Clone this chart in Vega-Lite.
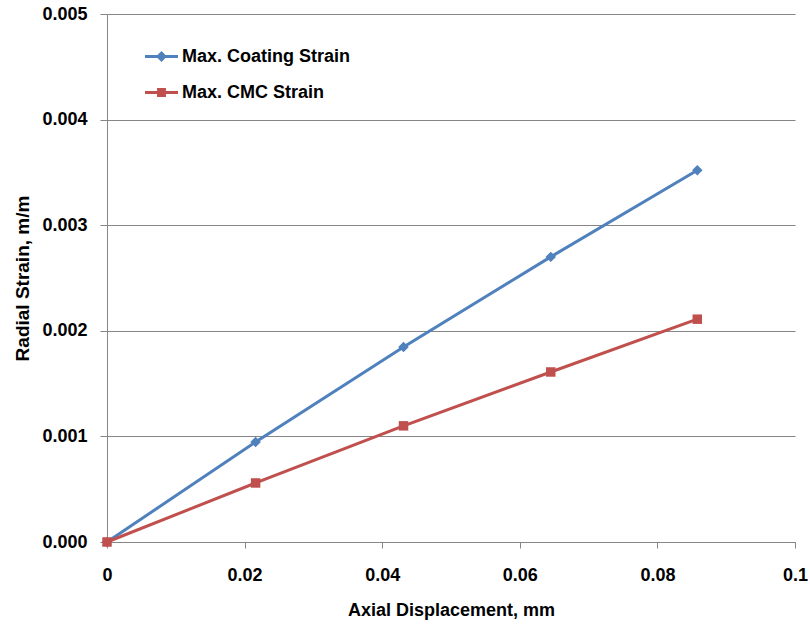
{
  "$schema": "https://vega.github.io/schema/vega-lite/v6.json",
  "width": 688,
  "height": 528,
  "autosize": {"type": "none"},
  "padding": {"left": 107, "top": 14, "right": 15, "bottom": 82},
  "background": "white",
  "config": {
    "view": {"stroke": null},
    "font": "Liberation Sans, sans-serif"
  },
  "data": {
    "values": [
      {"series": "Max. Coating Strain", "x": 0, "y": 0},
      {"series": "Max. Coating Strain", "x": 0.0216, "y": 0.000947},
      {"series": "Max. Coating Strain", "x": 0.0431, "y": 0.001847},
      {"series": "Max. Coating Strain", "x": 0.0645, "y": 0.0027},
      {"series": "Max. Coating Strain", "x": 0.0858, "y": 0.00352},
      {"series": "Max. CMC Strain", "x": 0, "y": 0},
      {"series": "Max. CMC Strain", "x": 0.0216, "y": 0.000559},
      {"series": "Max. CMC Strain", "x": 0.0431, "y": 0.0011},
      {"series": "Max. CMC Strain", "x": 0.0645, "y": 0.00161},
      {"series": "Max. CMC Strain", "x": 0.0858, "y": 0.00211}
    ]
  },
  "encoding": {
    "x": {
      "field": "x",
      "type": "quantitative",
      "scale": {"domain": [0, 0.1], "nice": false, "zero": false},
      "axis": {
        "values": [0, 0.02, 0.04, 0.06, 0.08, 0.1],
        "format": "~g",
        "title": "Axial Displacement, mm",
        "grid": false,
        "domainColor": "#868686",
        "tickColor": "#868686",
        "tickSize": 6,
        "labelFontSize": 18,
        "labelFontWeight": "bold",
        "labelColor": "black",
        "labelPadding": 18,
        "labelFlush": false,
        "titleFontSize": 18,
        "titleFontWeight": "bold",
        "titleColor": "black",
        "titlePadding": 17
      }
    },
    "y": {
      "field": "y",
      "type": "quantitative",
      "scale": {"domain": [0, 0.005], "nice": false},
      "axis": {
        "values": [0, 0.001, 0.002, 0.003, 0.004, 0.005],
        "format": ".3f",
        "title": "Radial Strain, m/m",
        "grid": true,
        "gridColor": "#868686",
        "domainColor": "#868686",
        "tickColor": "#868686",
        "tickSize": 7,
        "labelFontSize": 18,
        "labelFontWeight": "bold",
        "labelColor": "black",
        "labelPadding": 13,
        "titleFontSize": 19,
        "titleFontWeight": "bold",
        "titleColor": "black",
        "titlePadding": 9
      }
    },
    "color": {
      "field": "series",
      "type": "nominal",
      "scale": {
        "domain": ["Max. Coating Strain", "Max. CMC Strain"],
        "range": ["#4F81BD", "#C0504D"]
      },
      "legend": {
        "title": null,
        "orient": "none",
        "legendX": 38,
        "legendY": 26,
        "padding": 0,
        "symbolSize": 1089,
        "symbolStrokeWidth": 0,
        "labelFontSize": 18,
        "labelFontWeight": "bold",
        "labelColor": "black",
        "labelOffset": 4,
        "labelLimit": 400,
        "rowPadding": 10,
        "encode": {
          "symbols": {
            "update": {
              "shape": {"signal": "datum.value === 'Max. Coating Strain' ? 'M-1,-0.09L1,-0.09L1,0.09L-1,0.09Z M0,-0.33L0.33,0L0,0.33L-0.33,0Z' : 'M-1,-0.09L1,-0.09L1,0.09L-1,0.09Z M-0.27,-0.27L0.27,-0.27L0.27,0.27L-0.27,0.27Z'"},
              "fill": {"signal": "scale('color', datum.value)"},
              "stroke": {"value": "transparent"},
              "opacity": {"value": 1}
            }
          }
        }
      }
    }
  },
  "layer": [
    {"mark": {"type": "line", "strokeWidth": 3}},
    {
      "transform": [{"filter": "datum.series === 'Max. Coating Strain'"}],
      "mark": {"type": "point", "filled": true, "opacity": 1, "size": 110, "shape": "diamond"}
    },
    {
      "transform": [{"filter": "datum.series === 'Max. CMC Strain'"}],
      "mark": {"type": "point", "filled": true, "opacity": 1, "size": 90, "shape": "square"}
    }
  ]
}
